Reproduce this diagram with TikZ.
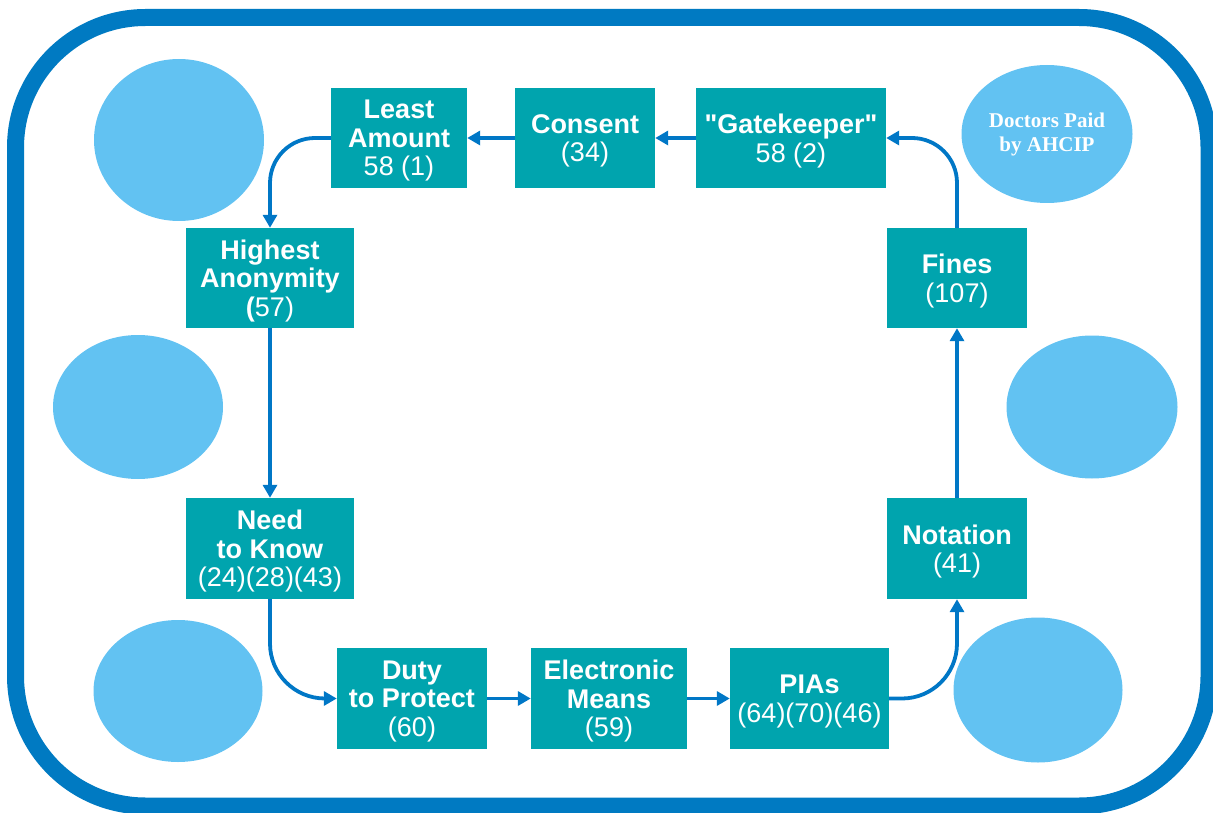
\documentclass[tikz,border=0pt]{standalone}
\usepackage{fontspec}
\setmainfont{Liberation Sans}
\newfontfamily\docfont{Liberation Serif}
\usepackage{tikz}
\usetikzlibrary{arrows.meta,positioning,shapes.geometric}
\usepackage{xcolor}
\definecolor{framecol}{HTML}{007AC2}
\definecolor{boxcol}{HTML}{00A4AE}
\definecolor{blobcol}{HTML}{62C2F2}
\definecolor{arrcol}{HTML}{0077C6}

\begin{document}
\begin{tikzpicture}[x=1pt, y=-1pt,
    box/.style={fill=boxcol, text=white, align=center, inner sep=0pt,
      text depth=-2pt, font=\fontsize{27}{28.5}\selectfont},
    blob/.style={ellipse, fill=blobcol, inner sep=0pt, text=white},
    arr/.style={arrcol, line width=3.8pt, -{Triangle[length=13pt,width=14pt]}}]

  \useasboundingbox (0,0) rectangle (1213,813);

  % Outer frame
  \draw[framecol, line width=17pt, rounded corners=130pt] (15.5,17.5) rectangle (1209,806);

  % Blobs
  \node[blob, minimum width=170, minimum height=162] (b1) at (179,140) {};
  \node[blob, minimum width=171, minimum height=138,
        font=\docfont\bfseries\fontsize{21}{24}\selectfont, align=center]
        (b2) at (1047,134) {Doctors Paid\\by AHCIP};
  \node[blob, minimum width=170, minimum height=144] (b3) at (138,407) {};
  \node[blob, minimum width=171, minimum height=143] (b4) at (1092,407) {};
  \node[blob, minimum width=169, minimum height=142] (b5) at (178,691) {};
  \node[blob, minimum width=169, minimum height=145] (b6) at (1038,690) {};

  % Boxes
  \node[box, minimum width=136, minimum height=100] (least) at (399,138)
    {\textbf{Least}\\\textbf{Amount}\\58 (1)};
  \node[box, minimum width=140, minimum height=100] (consent) at (585,138)
    {\textbf{Consent}\\(34)};
  \node[box, minimum width=190, minimum height=100] (gate) at (791,138)
    {\textbf{\textquotedbl Gatekeeper\textquotedbl}\\58 (2)};
  \node[box, minimum width=168, minimum height=100] (highest) at (270,278)
    {\textbf{Highest}\\\textbf{Anonymity}\\\textbf{(}57)};
  \node[box, minimum width=140, minimum height=100] (fines) at (957,278)
    {\textbf{Fines}\\(107)};
  \node[box, minimum width=168, minimum height=101] (need) at (270,548.5)
    {\textbf{Need}\\\textbf{to Know}\\(24)(28)(43)};
  \node[box, minimum width=140, minimum height=101] (notation) at (957,548.5)
    {\textbf{Notation}\\(41)};
  \node[box, minimum width=150, minimum height=101] (duty) at (412,698.5)
    {\textbf{Duty}\\\textbf{to Protect}\\(60)};
  \node[box, minimum width=156, minimum height=101] (elec) at (609,698.5)
    {\textbf{Electronic}\\\textbf{Means}\\(59)};
  \node[box, minimum width=159, minimum height=101] (pias) at (809.5,698.5)
    {\textbf{PIAs}\\(64)(70)(46)};

  % Arrows
  \draw[arr] (gate) -- (consent);
  \draw[arr] (consent) -- (least);
  \draw[arr, rounded corners=45pt] (least.west) -| (highest.north);
  \draw[arr] (highest) -- (need);
  \draw[arr, rounded corners=55pt] (need.south) |- (duty.west);
  \draw[arr] (duty) -- (elec);
  \draw[arr] (elec) -- (pias);
  \draw[arr, rounded corners=55pt] (pias.east) -| (notation.south);
  \draw[arr] (notation) -- (fines);
  \draw[arr, rounded corners=45pt] (fines.north) |- (gate.east);
\end{tikzpicture}
\end{document}
